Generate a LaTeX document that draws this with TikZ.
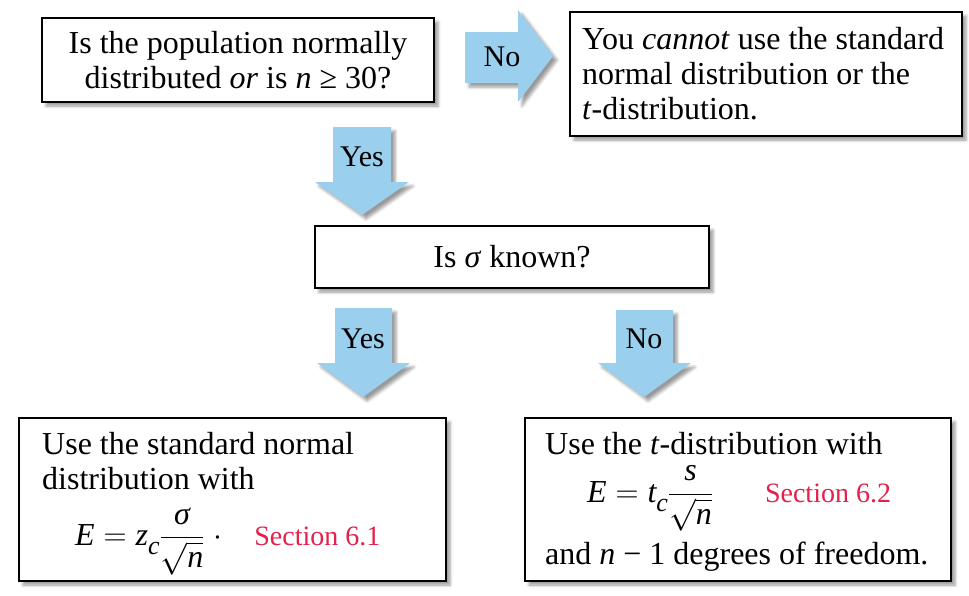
\RequirePackage{fix-cm}
\documentclass[tikz,border=0pt]{standalone}
\usepackage{amsmath}
\usepackage{fontspec}
\setmainfont{Liberation Serif}
\usetikzlibrary{shadows.blur,calc}
\definecolor{arrowblue}{RGB}{155,207,238}
\definecolor{secred}{RGB}{228,32,76}
\tikzset{
  shd/.style={blur shadow={shadow xshift=4pt,shadow yshift=-4pt,shadow blur radius=3pt,shadow opacity=40}},
  box/.style={draw=black, line width=2pt, fill=white, rectangle, inner sep=0pt, shd},
  bigarrow/.style={fill=arrowblue, shd},
  lbl/.style={font=\fontsize{30}{34}\selectfont, inner sep=0pt},
  txt/.style={font=\fontsize{32}{35}\selectfont, inner sep=0pt}
}
\newcommand{\secfont}{\fontsize{28}{30}\selectfont}
\newcommand{\subc}{\raisebox{-9pt}{\fontsize{26}{26}\selectfont\textit{c}}}
\begin{document}
\begin{tikzpicture}[x=1pt,y=-1pt]
\useasboundingbox (0,0) rectangle (969,595);
% arrows
\path[bigarrow] (465,32) -- (518,32) -- (518,10) -- (553,56) -- (518,102) -- (518,83) -- (465,83) -- cycle;
\path[bigarrow] (333,127) -- (391,127) -- (391,182) -- (409,182) -- (362,215) -- (315,182) -- (333,182) -- cycle;
\path[bigarrow] (335,308) -- (392,308) -- (392,363) -- (410,363) -- (363,397) -- (317,363) -- (335,363) -- cycle;
\path[bigarrow] (616,310) -- (673,310) -- (673,363) -- (691,363) -- (644,397) -- (598,363) -- (616,363) -- cycle;
\node[lbl] (no1) at (502,57) {No};
\node[lbl] (yes1) at (362,157) {Yes};
\node[lbl] (yes2) at (363,339) {Yes};
\node[lbl] (no2) at (644,339) {No};
% boxes
\node[box, minimum width=392pt, minimum height=84pt] (b1) at (238,60) {};
\node[txt, align=center] (t1) at (b1.center) {Is the population normally\\distributed \textit{or} is \textit{n} ≥ 30?};
\node[box, minimum width=392pt, minimum height=124pt] (b2) at (766,74) {};
\node[txt, align=left, anchor=west] (t2) at ($(b2.west)+(13,0)$) {You \textit{cannot} use the standard\\normal distribution or the\\\textit{t}-distribution.};
\node[box, minimum width=394pt, minimum height=62pt] (b3) at (512,257) {};
\node[txt] (t3) at (b3.center) {Is \textit{σ} known?};
\node[box, minimum width=427pt, minimum height=163pt] (b4) at (232.5,499.5) {};
\node[txt, align=left, anchor=north west] (t4) at (42,432) {Use the standard normal\\distribution with\\[17pt]\hspace*{33pt}$\displaystyle \textit{E} = \textit{z}\subc\frac{\textit{σ}}{\sqrt{\textit{n}}}\;\cdot$\hspace{32pt}{\color{secred}\secfont Section 6.1}};
\node[box, minimum width=426pt, minimum height=163pt] (b5) at (738,499.5) {};
\node[txt, align=left, anchor=north west] (t5) at (545,432) {Use the \textit{t}-distribution with\\[10pt]\hspace*{42pt}$\displaystyle \textit{E} = \textit{t}\subc\frac{\textit{s}}{\sqrt{\textit{n}}}$\hspace{52pt}{\color{secred}\secfont Section 6.2}\\[9pt]and \textit{n} − 1 degrees of freedom.};
\end{tikzpicture}
\end{document}
